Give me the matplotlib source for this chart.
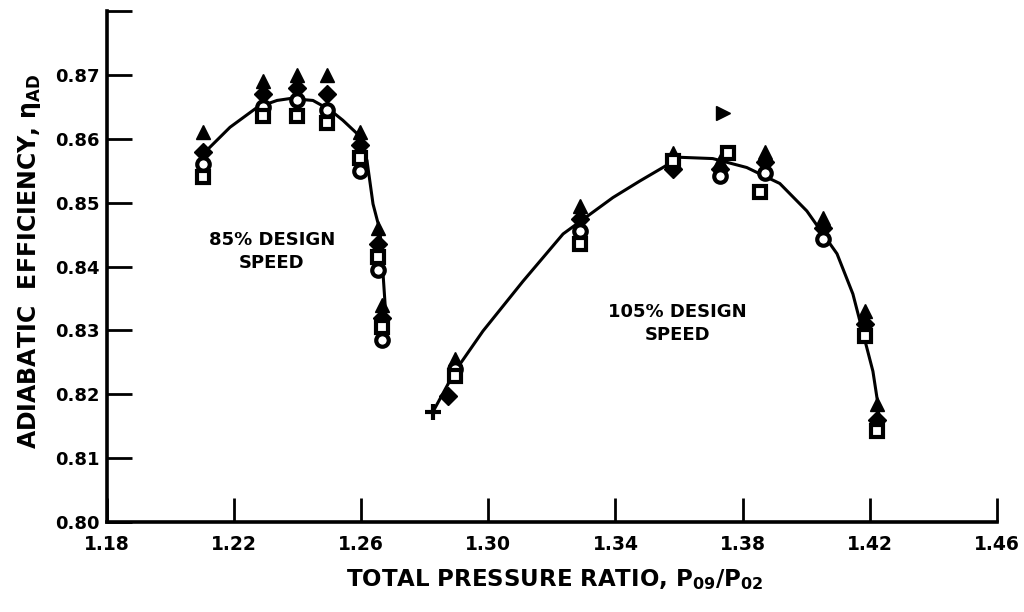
import matplotlib

matplotlib.use("Agg")
import matplotlib.pyplot as plt  # noqa: E402

plt.rcParams["font.family"] = ["DejaVu Sans"]
plt.rcParams["font.weight"] = "bold"
plt.rcParams["mathtext.fontset"] = "dejavusans"
plt.rcParams["mathtext.default"] = "bf"

# faired curves through the test points
curve85_x = [1.2108, 1.2187, 1.2272, 1.2335, 1.2376, 1.2448, 1.2502, 1.2542,
             1.2587, 1.2618, 1.2637, 1.2659, 1.2668, 1.2675, 1.2671]
curve85_y = [0.8579, 0.8618, 0.8649, 0.8660, 0.8663, 0.8660, 0.8645, 0.8629,
             0.8608, 0.8566, 0.8498, 0.8456, 0.8393, 0.8341, 0.8288]

curve105_x = [1.2826, 1.2895, 1.2983, 1.3109, 1.3235, 1.3392, 1.3477, 1.3549,
              1.3603, 1.3706, 1.3813, 1.3917, 1.4002, 1.4097, 1.4147, 1.4210,
              1.4226, 1.4232]
curve105_y = [0.8173, 0.8236, 0.8299, 0.8377, 0.8451, 0.8508, 0.8534, 0.8555,
              0.8571, 0.8569, 0.8555, 0.8530, 0.8487, 0.8420, 0.8357, 0.8236,
              0.8184, 0.8141]

# measured points, one list per symbol
tri_x = [1.2102, 1.2290, 1.2398, 1.2492, 1.2596, 1.2653, 1.2665,
         1.2895, 1.3288, 1.3581, 1.3728, 1.3870, 1.4053, 1.4185, 1.4222]
tri_y = [0.8610, 0.8690, 0.8700, 0.8700, 0.8610, 0.8460, 0.8340,
         0.8255, 0.8495, 0.8578, 0.8565, 0.8580, 0.8476, 0.8330, 0.8185]

dia_x = [1.2102, 1.2290, 1.2398, 1.2492, 1.2596, 1.2653, 1.2665,
         1.2873, 1.3288, 1.3581, 1.3728, 1.3870, 1.4053, 1.4185, 1.4222]
dia_y = [0.8580, 0.8670, 0.8680, 0.8670, 0.8590, 0.8435, 0.8320,
         0.8197, 0.8475, 0.8553, 0.8552, 0.8563, 0.8460, 0.8310, 0.8160]

circ_x = [1.2102, 1.2290, 1.2398, 1.2492, 1.2596, 1.2653, 1.2665,
          1.2895, 1.3288, 1.3728, 1.3870, 1.4053]
circ_y = [0.8560, 0.8650, 0.8660, 0.8645, 0.8550, 0.8395, 0.8285,
          0.8240, 0.8455, 0.8542, 0.8547, 0.8443]

sq_x = [1.2102, 1.2290, 1.2398, 1.2492, 1.2596, 1.2653, 1.2665,
        1.2895, 1.3288, 1.3581, 1.3754, 1.3854, 1.4185, 1.4222]
sq_y = [0.8540, 0.8635, 0.8635, 0.8625, 0.8570, 0.8415, 0.8305,
        0.8228, 0.8435, 0.8565, 0.8577, 0.8516, 0.8292, 0.8143]

plus_x = [1.2826]
plus_y = [0.8173]

rtri_x = [1.3738]
rtri_y = [0.8640]

x_ticks = [1.18, 1.22, 1.26, 1.30, 1.34, 1.38, 1.42, 1.46]
y_ticks = [0.80, 0.81, 0.82, 0.83, 0.84, 0.85, 0.86, 0.87, 0.88]
y_tick_labels = ["0.80", "0.81", "0.82", "0.83", "0.84", "0.85", "0.86", "0.87", ""]

fig = plt.figure(figsize=(10.24, 6.12), dpi=100)
ax = fig.add_axes([0.1045, 0.147, 0.869, 0.835])

ax.plot(curve85_x, curve85_y, color="black", lw=2.2, zorder=2)
ax.plot(curve105_x, curve105_y, color="black", lw=2.2, zorder=2)

ms = 10
ax.plot(tri_x, tri_y, ls="none", marker="^", ms=ms, color="black", zorder=3)
ax.plot(dia_x, dia_y, ls="none", marker="D", ms=ms - 1, color="black", zorder=3)
ax.plot(circ_x, circ_y, ls="none", marker="o", ms=ms - 1, mfc="white",
        mec="black", mew=3, zorder=4)
ax.plot(sq_x, sq_y, ls="none", marker="s", ms=ms - 1, mfc="white",
        mec="black", mew=3, zorder=4)
ax.plot(plus_x, plus_y, ls="none", marker="+", ms=ms + 2, mew=3,
        color="black", zorder=3)
ax.plot(rtri_x, rtri_y, ls="none", marker=">", ms=ms, color="black", zorder=3)

ax.text(1.2319, 0.8424, "85% DESIGN\nSPEED", ha="center", va="center",
        fontsize=13, fontweight="bold", linespacing=1.35)
ax.text(1.3596, 0.8311, "105% DESIGN\nSPEED", ha="center", va="center",
        fontsize=13, fontweight="bold", linespacing=1.35)

ax.set_xlim(1.18, 1.46)
ax.set_ylim(0.80, 0.88)
ax.set_xticks(x_ticks)
ax.set_xticklabels([f"{v:.2f}" for v in x_ticks])
ax.set_yticks(y_ticks)
ax.set_yticklabels(y_tick_labels)

for side in ("top", "right"):
    ax.spines[side].set_visible(False)
for side in ("left", "bottom"):
    ax.spines[side].set_linewidth(2.6)

ax.tick_params(axis="y", direction="in", length=18, width=2, pad=5,
               labelsize=13)
ax.tick_params(axis="x", direction="in", length=17, width=2, pad=9,
               labelsize=13.5)

ax.set_xlabel(r"TOTAL PRESSURE RATIO, P$_{09}$/P$_{02}$", fontsize=16.5,
              fontweight="bold")
ax.xaxis.set_label_coords(0.503, -0.088)
ax.set_ylabel(r"ADIABATIC  EFFICIENCY, $\eta_{AD}$", fontsize=17,
              fontweight="bold")
ax.yaxis.set_label_coords(-0.072, 0.51)

fig.savefig("out.png", dpi=100, facecolor="white")
plt.close(fig)
